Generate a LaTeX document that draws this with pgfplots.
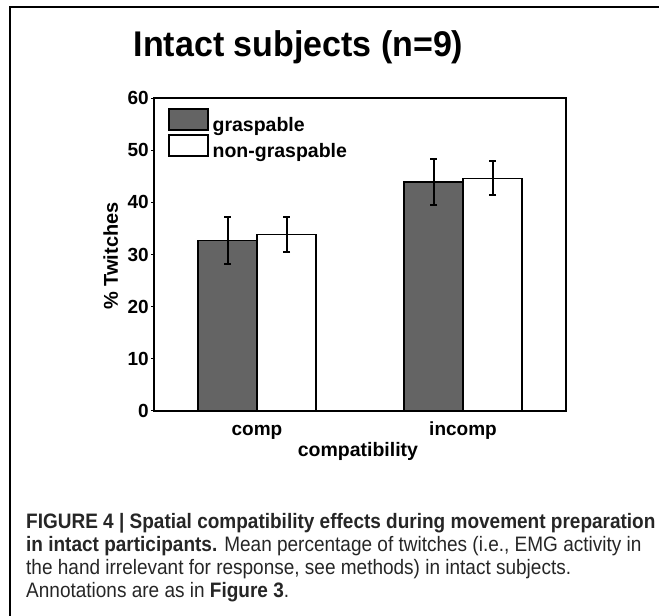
\documentclass[border=0pt]{standalone}
\usepackage{pgfplots}
\pgfplotsset{compat=1.18}
\usepackage{fontspec}
\setmainfont{Liberation Sans}
\definecolor{bardark}{RGB}{100,100,100}
\begin{document}
\begin{tikzpicture}[x=1pt,y=1pt]
\path[use as bounding box] (0,0) rectangle (659,616);
\draw[line width=2pt] (10,0) -- (10,609) -- (659,609);
\node[anchor=base, inner sep=0pt, font=\fontsize{34}{40}\selectfont\bfseries] at (298.5,559) {\scalebox{1}[1.05]{Intact subjects (n=9)}};
\begin{axis}[
  at={(154pt,205pt)}, anchor=south west,
  scale only axis, width=412pt, height=313pt,
  xmin=-0.5, xmax=1.5, ymin=0, ymax=60,
  ybar=0pt, bar width=59pt,
  xtick={0,1}, xticklabels={comp,incomp},
  ytick={0,10,...,60},
  tick pos=left,
  axis line style={line width=1.4pt},
  x tick style={draw=none},
  y tick style={line width=1pt, black},
  tick align=outside, major tick length=3pt,
  tick label style={font=\fontsize{19}{22}\selectfont\bfseries},
  /pgf/number format/assume math mode=true,
  yticklabel style={inner xsep=2pt},
  xticklabel style={anchor=north, inner ysep=0pt, text height=21pt},
  xlabel={compatibility},
  xlabel style={at={(axis description cs:0.495,0)}, anchor=base, yshift=-46pt, font=\fontsize{19.5}{22}\selectfont\bfseries},
  ylabel={\% Twitches},
  ylabel style={at={(axis description cs:-0.0874,0.495)}, anchor=base, rotate=0, font=\fontsize{20}{22}\selectfont\bfseries},
  legend style={at={(axis description cs:0.034,0.968)}, anchor=north west, draw=none, fill=none, inner sep=0pt,
    row sep=-2pt, font=\fontsize{19.5}{22}\selectfont\bfseries,
    nodes={inner sep=0pt, text height=14pt, text depth=5pt},
    /tikz/every odd column/.append style={column sep=4pt}},
  legend cell align=left,
  legend image code/.code={\draw[#1, line width=1.4pt] (0pt,-3pt) rectangle (39pt,18pt);},
  error bars/y dir=both, error bars/y explicit,
  error bars/error bar style={line width=2pt, black, solid},
  error bars/error mark options={rotate=90, mark size=3.5pt, line width=2pt, black},
]
\addplot[fill=bardark, draw=black, line width=1.4pt]
  coordinates {(0,32.7) +- (0,4.5) (1,43.9) +- (0,4.45)};
\addlegendentry{graspable}
\addplot[fill=white, draw=black, line width=1.4pt]
  coordinates {(0,33.8) +- (0,3.4) (1,44.6) +- (0,3.25)};
\addlegendentry{non-graspable}
\end{axis}
\begin{scope}[every node/.style={anchor=base west, inner sep=0pt, font=\fontsize{19}{23}\selectfont, text=black!85}]
\node at (26,87) {\scalebox{1}[1.1]{\textbf{FIGURE 4 | Spatial compatibility effects during movement preparation}}};
\node at (26,64) {\scalebox{1}[1.1]{\textbf{in intact participants.} Mean percentage of twitches (i.e., EMG activity in}};
\node at (26,41) {\scalebox{1}[1.1]{the hand irrelevant for response, see methods) in intact subjects.}};
\node at (26,18) {\scalebox{1}[1.1]{Annotations are as in \textbf{Figure 3}.}};
\end{scope}
\end{tikzpicture}
\end{document}
